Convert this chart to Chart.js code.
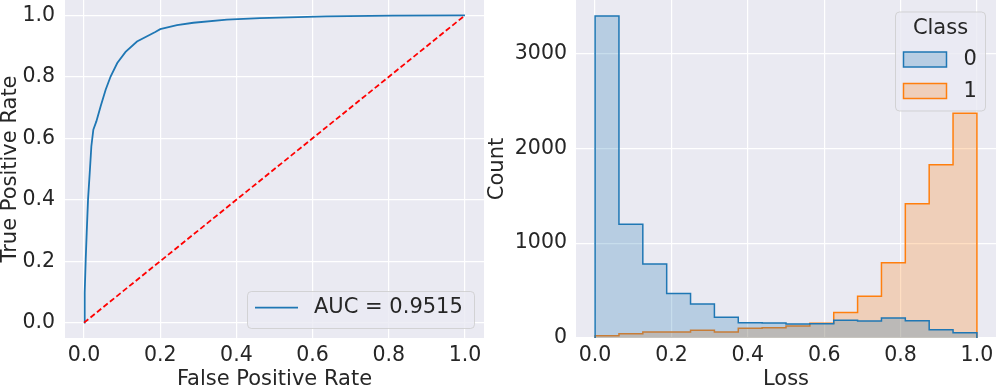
<!DOCTYPE html>
<html><head><meta charset="utf-8">
<script src="https://cdn.jsdelivr.net/npm/chart.js@4"></script>
<style>
html,body{margin:0;padding:0;background:#fff;width:997px;height:389px;overflow:hidden}
#c1{position:absolute;left:0;top:0}
#c2{position:absolute;left:486px;top:0}
</style></head><body>
<canvas id="c1" width="486" height="389"></canvas>
<canvas id="c2" width="511" height="389"></canvas>
<script>
// ---- ROC panel data ----
const fpr = [0, 0.0017, 0.0044, 0.0070, 0.0105, 0.0149, 0.0192, 0.0244, 0.0323, 0.0436, 0.0567, 0.0697, 0.0872, 0.109, 0.139, 0.187, 0.200, 0.244, 0.287, 0.375, 0.462, 0.636, 0.81, 1.0];
const tpr = [0, 0.0975, 0.206, 0.293, 0.401, 0.487, 0.574, 0.628, 0.655, 0.704, 0.758, 0.801, 0.845, 0.881, 0.915, 0.946, 0.955, 0.968, 0.976, 0.986, 0.991, 0.997, 0.999, 1.0];
const chanceX = [0, 1];
const chanceY = [0, 1];
const rateTicks = [0, 0.2, 0.4, 0.6, 0.8, 1.0];
const aucLabel = 'AUC = 0.9515';

// ---- Loss histogram data ----
const binEdges = [0, 0.0625, 0.125, 0.1875, 0.25, 0.3125, 0.375, 0.4375, 0.5, 0.5625, 0.625, 0.6875, 0.75, 0.8125, 0.875, 0.9375, 1.0];
const class0Counts = [3393, 1200, 779, 470, 358, 218, 161, 158, 147, 150, 186, 179, 210, 182, 88, 56];
const class1Counts = [25, 46, 63, 63, 81, 63, 102, 109, 126, 155, 270, 439, 793, 1414, 1825, 2368];
const countTicks = [0, 1000, 2000, 3000];
const lossTicks = [0, 0.2, 0.4, 0.6, 0.8, 1.0];
const classLevels = ['0', '1'];
const legendTitle = 'Class';

const TEXT = '#262626';
const BLUE = '#1f77b4';
const ORANGE = '#ff7f0e';
Chart.defaults.font.family = "'DejaVu Sans', sans-serif";
Chart.defaults.color = TEXT;

const bgPlugin = {
  id: 'bgArea',
  beforeDraw(chart) {
    const {ctx, chartArea: a} = chart;
    ctx.save();
    ctx.fillStyle = '#EAEAF2';
    ctx.fillRect(a.left, a.top, a.right - a.left, a.bottom - a.top);
    ctx.restore();
  }
};

function legendFrame(ctx, x, y, w, h) {
  ctx.save();
  ctx.beginPath();
  ctx.roundRect(x, y, w, h, 4);
  ctx.fillStyle = 'rgba(234,234,242,0.8)';
  ctx.fill();
  ctx.strokeStyle = 'rgba(204,204,204,0.8)';
  ctx.lineWidth = 1;
  ctx.stroke();
  ctx.restore();
}

function stepPoints(counts) {
  const pts = [{x: binEdges[0], y: 0}];
  counts.forEach((c, i) => pts.push({x: binEdges[i], y: c}));
  pts.push({x: binEdges[binEdges.length - 1], y: counts[counts.length - 1]});
  pts.push({x: binEdges[binEdges.length - 1], y: 0});
  return pts;
}

function gridOpts() { return {color: '#ffffff', lineWidth: 1.2, drawTicks: false}; }
function noPad(s) { s.paddingTop = 0; s.paddingBottom = 0; s.paddingLeft = 0; s.paddingRight = 0; }

// ---- Left: ROC ----
const rocLegend = {
  id: 'rocLegend',
  afterDraw(chart) {
    const ctx = chart.ctx;
    legendFrame(ctx, 247.5, 291.5, 227, 37);
    ctx.save();
    ctx.strokeStyle = BLUE; ctx.lineWidth = 1.8;
    ctx.beginPath(); ctx.moveTo(255, 307.7); ctx.lineTo(298, 307.7); ctx.stroke();
    ctx.fillStyle = TEXT; ctx.font = "21px 'DejaVu Sans'";
    ctx.textBaseline = 'middle'; ctx.textAlign = 'left';
    ctx.fillText(aucLabel, 314, 308);
    ctx.restore();
  }
};

new Chart(document.getElementById('c1'), {
  type: 'scatter',
  data: {
    datasets: [
      {label: 'chance', data: chanceX.map((x, i) => ({x, y: chanceY[i]})), showLine: true, borderColor: '#ff0000', borderWidth: 1.8, borderDash: [5.5, 2.8], pointRadius: 0, fill: false},
      {label: aucLabel, data: fpr.map((x, i) => ({x, y: tpr[i]})), showLine: true, borderColor: BLUE, borderWidth: 1.8, pointRadius: 0, fill: false, tension: 0}
    ]
  },
  options: {
    responsive: false, animation: false, devicePixelRatio: 1,
    layout: {padding: {left: 0, right: 2, top: 0, bottom: 0}},
    plugins: {legend: {display: false}, tooltip: {enabled: false}},
    scales: {
      x: {
        type: 'linear', min: -0.05, max: 1.05,
        afterBuildTicks: s => { s.ticks = rateTicks.map(v => ({value: v})); },
        afterFit: s => { s.height = 51; noPad(s); },
        grid: gridOpts(), border: {display: false},
        ticks: {font: {size: 20.5}, padding: 5, color: TEXT, callback: v => Number(v).toFixed(1), maxRotation: 0},
        title: {display: true, text: 'False Positive Rate', font: {size: 21, lineHeight: 0.9}, padding: 0, color: TEXT}
      },
      y: {
        type: 'linear', min: -0.05, max: 1.05,
        afterBuildTicks: s => { s.ticks = rateTicks.map(v => ({value: v})); },
        afterFit: s => { s.width = 65; noPad(s); },
        grid: gridOpts(), border: {display: false},
        ticks: {font: {size: 20.5}, padding: 10, color: TEXT, callback: v => Number(v).toFixed(1)},
        title: {display: true, text: 'True Positive Rate', font: {size: 21, lineHeight: 1}, padding: {top: 0.5, bottom: 0}, color: TEXT}
      }
    }
  },
  plugins: [bgPlugin, rocLegend]
});

// ---- Right: histogram ----
const classLegend = {
  id: 'classLegend',
  afterDraw(chart) {
    const ctx = chart.ctx;
    legendFrame(ctx, 409.5, 12, 90, 99);
    ctx.save();
    ctx.fillStyle = TEXT; ctx.font = "21px 'DejaVu Sans'";
    ctx.textBaseline = 'middle'; ctx.textAlign = 'center';
    ctx.fillText(legendTitle, 454.5, 29);
    const cols = [BLUE, ORANGE];
    const fills = ['rgba(31,119,180,0.25)', 'rgba(255,127,14,0.25)'];
    const ys = [52, 83.5];
    classLevels.forEach((lab, i) => {
      ctx.fillStyle = fills[i];
      ctx.fillRect(417.5, ys[i], 43, 15);
      ctx.strokeStyle = cols[i]; ctx.lineWidth = 1.5;
      ctx.strokeRect(417.5, ys[i], 43, 15);
      ctx.fillStyle = TEXT; ctx.textAlign = 'left';
      ctx.fillText(lab, 477.5, ys[i] + 8);
    });
    ctx.restore();
  }
};

new Chart(document.getElementById('c2'), {
  type: 'line',
  data: {
    datasets: [
      {label: classLevels[0], data: stepPoints(class0Counts), stepped: 'before', borderColor: BLUE, backgroundColor: 'rgba(31,119,180,0.25)', borderWidth: 1.5, pointRadius: 0, fill: 'origin'},
      {label: classLevels[1], data: stepPoints(class1Counts), stepped: 'before', borderColor: ORANGE, backgroundColor: 'rgba(255,127,14,0.25)', borderWidth: 1.5, pointRadius: 0, fill: 'origin'}
    ]
  },
  options: {
    responsive: false, animation: false, devicePixelRatio: 1,
    layout: {padding: {left: 0, right: 1, top: 0, bottom: 0}},
    plugins: {legend: {display: false}, tooltip: {enabled: false}},
    scales: {
      x: {
        type: 'linear', min: -0.05, max: 1.05,
        afterBuildTicks: s => { s.ticks = lossTicks.map(v => ({value: v})); },
        afterFit: s => { s.height = 51; noPad(s); },
        grid: gridOpts(), border: {display: false},
        ticks: {font: {size: 20.5}, padding: 5, color: TEXT, callback: v => Number(v).toFixed(1), maxRotation: 0},
        title: {display: true, text: 'Loss', font: {size: 21, lineHeight: 0.9}, padding: 0, color: TEXT}
      },
      y: {
        type: 'linear', min: 0, max: 3562,
        afterBuildTicks: s => { s.ticks = countTicks.map(v => ({value: v})); },
        afterFit: s => { s.width = 90; noPad(s); },
        grid: gridOpts(), border: {display: false},
        ticks: {font: {size: 20.5}, padding: 9, color: TEXT, callback: v => String(v)},
        title: {display: true, text: 'Count', font: {size: 21, lineHeight: 1}, padding: {top: 1, bottom: 0}, color: TEXT}
      }
    }
  },
  plugins: [bgPlugin, classLegend]
});
</script>
</body></html>
